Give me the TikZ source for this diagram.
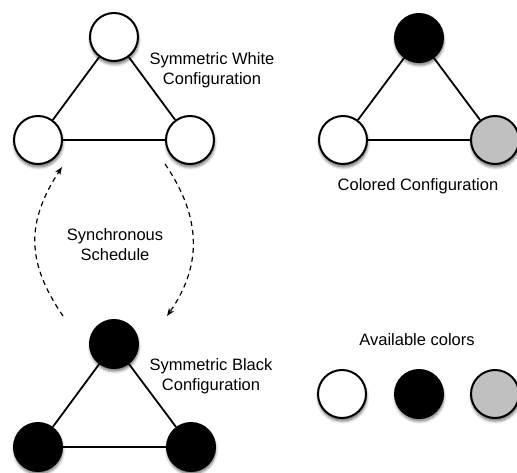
\documentclass[tikz,border=0pt]{standalone}
\usepackage{fontspec}
\setmainfont{Liberation Sans}
\usetikzlibrary{arrows.meta,shadows.blur}
\definecolor{lightgraycol}{RGB}{192,192,192}
\tikzset{
  vtx/.style={circle, draw=black, line width=2pt, minimum size=48pt, inner sep=0pt,
    blur shadow={shadow xshift=0.5pt, shadow yshift=-3pt, shadow blur steps=6, shadow opacity=60, shadow blur radius=3pt}},
  wv/.style={vtx, fill=white},
  bv/.style={vtx, fill=black},
  gv/.style={vtx, fill=lightgraycol},
  edge/.style={line width=1.8pt},
  lbl/.style={font=\fontsize{16.5}{20}\selectfont, align=center, inner sep=0pt},
  sched/.style={dashed, line width=1.2pt, dash pattern=on 5pt off 4pt, -{Stealth[length=8pt,width=6pt]}}
}
\begin{document}
\begin{tikzpicture}[x=1pt,y=-1pt]
\useasboundingbox (0,0) rectangle (517,473);
% white triangle
\node[wv] (wt) at (114,37) {};
\node[wv] (wl) at (38,140) {};
\node[wv] (wr) at (190,140) {};
\draw[edge] (wt) -- (wl);
\draw[edge] (wt) -- (wr);
\draw[edge] (wl) -- (wr);
\node[lbl] (wlab) at (212,70) {Symmetric White\\Configuration};
% colored triangle
\node[bv] (ct) at (419,38) {};
\node[wv] (cl) at (343,140) {};
\node[gv] (cr) at (495,140) {};
\draw[edge] (ct) -- (cl);
\draw[edge] (ct) -- (cr);
\draw[edge] (cl) -- (cr);
\node[lbl] (clab) at (418,186) {Colored Configuration};
% black triangle
\node[bv] (bt) at (114,344) {};
\node[bv] (bl) at (38,447) {};
\node[bv] (br) at (191,447) {};
\draw[edge] (bt) -- (bl);
\draw[edge] (bt) -- (br);
\draw[edge] (bl) -- (br);
\node[lbl] (blab) at (211,376) {Symmetric Black\\Configuration};
% schedule arrows
\node[lbl] (slab) at (115,245) {Synchronous\\Schedule};
\coordinate (a1s) at (63,316);
\coordinate (a1e) at (62,167);
\coordinate (a2s) at (165,164);
\coordinate (a2e) at (167,316);
\draw[sched] (a1s) .. controls (26,262) and (26,222) .. (a1e);
\draw[sched] (a2s) .. controls (202,218) and (202,266) .. (a2e);
% available colors
\node[lbl] (alab) at (417,340) {Available colors};
\node[wv] (aw) at (342,394) {};
\node[bv] (ab) at (419,394) {};
\node[gv] (ag) at (495,394) {};
\end{tikzpicture}
\end{document}
